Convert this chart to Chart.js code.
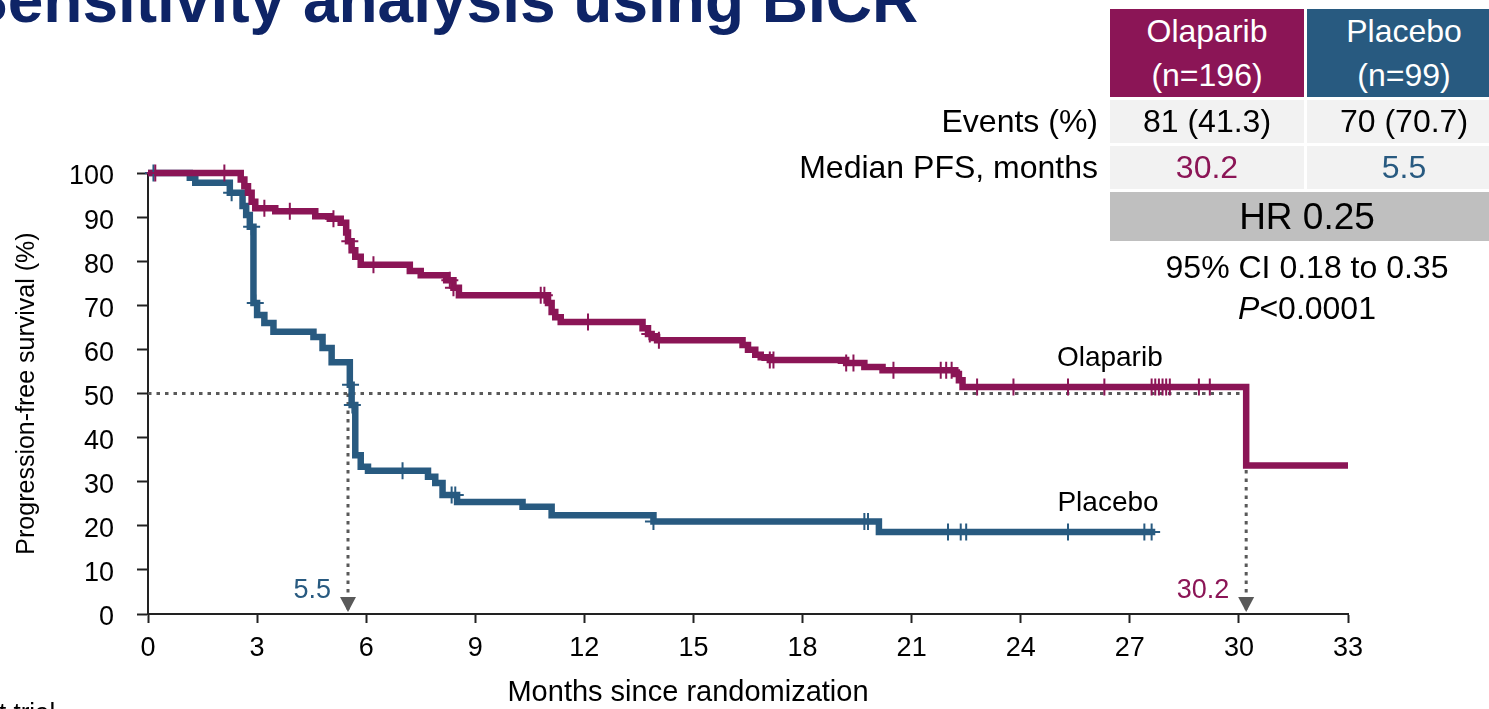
<!DOCTYPE html>
<html>
<head>
<meta charset="utf-8">
<script src="https://cdn.jsdelivr.net/npm/chart.js@4.4.1/dist/chart.umd.min.js"></script>
<style>
  html, body { margin: 0; padding: 0; background: #fff; overflow: hidden; }
  body { width: 1489px; height: 709px; position: relative; font-family: "Liberation Sans", Arial, sans-serif; color: #000; }
  #chart { position: absolute; left: 0; top: 0; }
  .title { position: absolute; left: -35px; top: -32px; font-size: 64px; line-height: 64px; font-weight: bold; color: #0E2466; white-space: nowrap; }
  .cell { position: absolute; display: flex; align-items: center; justify-content: center; font-size: 32px; white-space: nowrap; }
  .head { color: #fff; flex-direction: column; line-height: 44px; }
  .rowlbl { position: absolute; right: 391px; font-size: 32px; white-space: nowrap; display: flex; align-items: center; height: 43px; }
  .note { position: absolute; left: 1110px; width: 394px; text-align: center; font-size: 32px; white-space: nowrap; }
  .foot { position: absolute; left: -14px; top: 699px; font-size: 26px; line-height: 26px; color: #000; }
</style>
</head>
<body>
<canvas id="chart" width="1489" height="709"></canvas>

<div class="title">Sensitivity analysis using BICR</div>

<div class="cell head" style="left:1110px; top:9px; width:194px; height:88px; background:#8B1556;"><span>Olaparib</span><span>(n=196)</span></div>
<div class="cell head" style="left:1307px; top:9px; width:194px; height:88px; background:#285A80;"><span>Placebo</span><span>(n=99)</span></div>

<div class="rowlbl" style="top:100px;">Events (%)</div>
<div class="cell" style="left:1110px; top:100px; width:194px; height:43px; background:#F2F2F2;">81 (41.3)</div>
<div class="cell" style="left:1307px; top:100px; width:194px; height:43px; background:#F2F2F2;">70 (70.7)</div>

<div class="rowlbl" style="top:146px;">Median PFS, months</div>
<div class="cell" style="left:1110px; top:146px; width:194px; height:43px; background:#F2F2F2; color:#8B1556;">30.2</div>
<div class="cell" style="left:1307px; top:146px; width:194px; height:43px; background:#F2F2F2; color:#285A80;">5.5</div>

<div class="cell" style="left:1110px; top:192px; width:394px; height:49px; background:#BFBFBF; font-size:37px;">HR 0.25</div>
<div class="note" style="top:249px;">95% CI 0.18 to 0.35</div>
<div class="note" style="top:290px;"><i>P</i>&lt;0.0001</div>

<div class="foot">st trial</div>

<script>
// axis ticks
const xTicks = [0, 3, 6, 9, 12, 15, 18, 21, 24, 27, 30, 33];
const yTicks = [0, 10, 20, 30, 40, 50, 60, 70, 80, 90, 100];

// Olaparib KM steps (months, % progression-free)
const olapTime = [0, 2.55, 2.65, 2.75, 2.85, 2.95, 3.5, 4.6, 5.0, 5.3, 5.45, 5.5, 5.6, 5.7, 5.85,
  7.2, 7.5, 8.2, 8.4, 8.55, 11.0, 11.1, 11.2, 11.35, 13.6, 13.75, 13.85, 14.0,
  16.35, 16.5, 16.7, 16.85, 17.1, 19.2, 19.7, 20.2, 22.2, 22.3, 22.4, 30.2, 33];
const olapSurv = [100, 98.5, 97, 95.5, 93.5, 92, 91.3, 90.2, 89.6, 88.7, 86.5, 84.5, 82.5, 81, 79.2,
  77.8, 76.8, 75.7, 74.0, 72.3, 70.5, 68.5, 67.3, 66.2, 64.8, 63.5, 62.8, 62.1,
  61.0, 59.9, 58.8, 58.2, 57.6, 56.9, 56.0, 55.3, 54.4, 53.0, 51.5, 33.7, 33.7];
const olapCensor = [0.2, 2.1, 3.2, 3.9, 5.1, 5.55, 6.2, 8.3, 8.4, 10.8, 10.9, 12.1, 13.8, 14.05,
  17.1, 17.2, 19.2, 19.4, 20.5, 21.8, 21.95, 22.1, 22.8, 23.8, 25.3, 26.3,
  27.6, 27.7, 27.8, 27.9, 28.0, 28.1, 28.9, 29.2];

// Placebo KM steps
const placTime = [0, 1.15, 1.3, 2.25, 2.6, 2.7, 2.8, 2.9, 3.0, 3.2, 3.45, 4.55, 4.8, 5.05,
  5.55, 5.6, 5.7, 5.85, 6.05, 7.7, 7.9, 8.1, 8.5, 10.3, 11.1, 13.9, 20.1, 27.7];
const placSurv = [100, 98.9, 97.8, 95.5, 92.5, 90.5, 87.8, 70.5, 67.8, 66.0, 64.0, 62.8, 60.3, 57.1,
  52.0, 47.4, 36.0, 33.4, 32.5, 31.1, 29.7, 27.0, 25.4, 24.3, 22.4, 21.0, 18.6, 18.6];
const placCensor = [0.15, 2.3, 2.85, 2.95, 5.57, 5.62, 7.0, 8.35, 8.45, 13.9,
  19.7, 19.8, 22.0, 22.35, 22.5, 25.3, 27.4, 27.6];

// medians
const medianVals = [30.2, 5.5];
const medianText = ["30.2", "5.5"];

const olapColor = "#8B1556";
const placColor = "#285A80";
const dotColor = "#595959";
const FONT = '"Liberation Sans", Arial, sans-serif';

function survAt(times, surv, t) {
    let s = surv[0];
    for (let i = 0; i < times.length; i++) {
        if (times[i] <= t) s = surv[i];
    }
    return s;
}

const toPts = (times, surv) => times.map((t, i) => ({ x: t, y: surv[i] }));
const censorPts = (c, times, surv) => c.map(t => ({ x: t, y: survAt(times, surv, t) }));

// median arrows + curve labels + x axis title (sits left of centre in the original)
const annotate = {
    id: "annotate",
    afterDatasetsDraw(chart) {
        const { ctx } = chart;
        const x = chart.scales.x, y = chart.scales.y;
        ctx.save();
        const base = y.getPixelForValue(0) - 2;
        medianVals.forEach((m, i) => {
            const px = x.getPixelForValue(m);
            ctx.fillStyle = dotColor;
            ctx.beginPath();
            ctx.moveTo(px - 8, base - 15);
            ctx.lineTo(px + 8, base - 15);
            ctx.lineTo(px, base);
            ctx.closePath();
            ctx.fill();
            ctx.fillStyle = i === 0 ? olapColor : placColor;
            ctx.font = "27px " + FONT;
            ctx.textAlign = "right";
            ctx.textBaseline = "middle";
            ctx.fillText(medianText[i], px - 17, base - 21);
        });
        ctx.fillStyle = "#000";
        ctx.font = "28px " + FONT;
        ctx.textAlign = "center";
        ctx.textBaseline = "middle";
        ctx.fillText("Olaparib", x.getPixelForValue(26.45), y.getPixelForValue(58));
        ctx.fillText("Placebo", x.getPixelForValue(26.4), y.getPixelForValue(25.0));
        ctx.font = "29px " + FONT;
        ctx.fillText("Months since randomization", x.getPixelForValue(14.85), 693);
        ctx.restore();
    }
};

const dotted = (pts) => ({
    type: "line",
    data: pts,
    borderColor: dotColor,
    borderWidth: 3,
    borderDash: [3.5, 5],
    pointRadius: 0,
    fill: false,
    clip: false
});

new Chart(document.getElementById("chart"), {
    type: "line",
    data: {
        datasets: [
            {
                type: "scatter",
                data: censorPts(olapCensor, olapTime, olapSurv),
                pointStyle: "cross",
                radius: 8.5,
                borderColor: olapColor,
                borderWidth: 2,
                clip: false
            },
            {
                type: "scatter",
                data: censorPts(placCensor, placTime, placSurv),
                pointStyle: "cross",
                radius: 8.5,
                borderColor: placColor,
                borderWidth: 2,
                clip: false
            },
            {
                data: toPts(olapTime, olapSurv),
                borderColor: olapColor,
                borderWidth: 6.5,
                stepped: true,
                pointRadius: 0,
                clip: false
            },
            {
                data: toPts(placTime, placSurv),
                borderColor: placColor,
                borderWidth: 6.5,
                stepped: true,
                pointRadius: 0,
                clip: false
            },
            dotted([{ x: 0, y: 50 }, { x: medianVals[0], y: 50 }]),
            dotted([{ x: medianVals[0], y: 50 }, { x: medianVals[0], y: 0 }]),
            dotted([{ x: medianVals[1], y: 50 }, { x: medianVals[1], y: 0 }])
        ]
    },
    options: {
        responsive: false,
        animation: false,
        events: [],
        layout: { autoPadding: false, padding: { left: 0, top: 173, right: 141, bottom: 0 } },
        plugins: { legend: { display: false }, tooltip: { enabled: false } },
        scales: {
            x: {
                type: "linear",
                min: 0,
                max: 33,
                afterBuildTicks: s => { s.ticks = xTicks.map(v => ({ value: v })); },
                afterFit: s => { s.height = 95; },
                ticks: {
                    color: "#000",
                    font: { family: "Liberation Sans", size: 27 },
                    padding: 9,
                    maxRotation: 0,
                    autoSkip: false
                },
                grid: { drawOnChartArea: false, drawTicks: true, tickLength: 9, tickColor: "#222", tickWidth: 2 },
                border: { color: "#222", width: 2 }
            },
            y: {
                min: 0,
                max: 100,
                afterBuildTicks: s => { s.ticks = yTicks.map(v => ({ value: v })); },
                afterFit: s => { s.width = 148; },
                ticks: {
                    color: "#000",
                    font: { family: "Liberation Sans", size: 27 },
                    padding: 23,
                    labelOffset: 4
                },
                grid: { drawOnChartArea: false, drawTicks: true, tickLength: 11, tickColor: "#222", tickWidth: 2 },
                border: { color: "#222", width: 2 },
                title: {
                    display: true,
                    text: "Progression-free survival (%)",
                    color: "#000",
                    font: { family: "Liberation Sans", size: 25 },
                    padding: { top: 12, bottom: 0 }
                }
            }
        }
    },
    plugins: [annotate]
});
</script>
</body>
</html>
